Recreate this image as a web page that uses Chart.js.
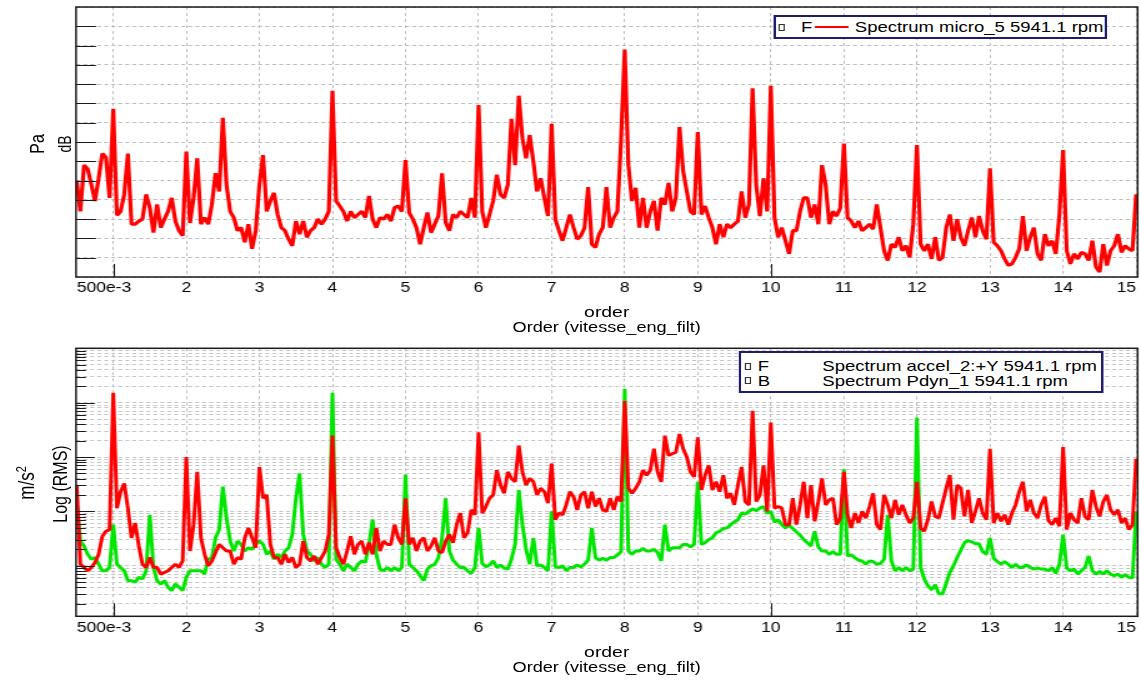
<!DOCTYPE html>
<html>
<head>
<meta charset="utf-8">
<title>Spectres en ordre - 5941.1 rpm</title>
<script src="https://cdn.jsdelivr.net/npm/chart.js@4.4.1/dist/chart.umd.min.js"></script>
<style>
  html, body { margin: 0; padding: 0; background: #fff; overflow: hidden; }
  /* the whole sheet is laid out narrow and widened afterwards */
  #sheet { position: absolute; left: 0; top: 0; width: 913px; height: 682px;
           transform: scaleX(1.2497); transform-origin: 0 0;
           font-family: "Liberation Sans", Arial, sans-serif; color: #000; }
  .panel { position: absolute; left: 0; width: 913px; }
  .panel canvas { display: block; }
  .txt { position: absolute; white-space: nowrap; line-height: 1; }
  .ctr { transform: translateX(-50%); }
  .vtxt { position: absolute; white-space: nowrap; line-height: 1;
          transform: translate(-50%, -50%) rotate(-90deg); }
  .lgbox { position: absolute; box-sizing: border-box; border: 2px solid #1d1d6b; background: #fff; }
  .mark { position: absolute; box-sizing: border-box; border: 1px solid #333; background: #fff; }
</style>
</head>
<body>
<div id="sheet">
  <div class="panel" style="top:0;height:340px">
    <canvas id="microChart"></canvas>
    <div class="vtxt" style="left:30px;top:143.5px;font-size:16px">Pa</div>
    <div class="vtxt" style="left:51.6px;top:143.5px;font-size:14px">dB</div>
    <div class="txt ctr" style="left:485.5px;top:303.8px;font-size:15.5px">order</div>
    <div class="txt ctr" style="left:485.5px;top:319.7px;font-size:14.5px">Order (vitesse_eng_filt)</div>
    <div class="lgbox" style="left:618.5px;top:15px;width:267px;height:24px"></div>
    <div class="mark" style="left:622.5px;top:23.5px;width:5.6px;height:7px"></div>
    <div class="txt" style="left:641px;top:19.8px;font-size:14.8px">F</div>
    <div style="position:absolute;left:652.2px;top:26px;width:26.4px;height:2.2px;background:#ff0000"></div>
    <div class="txt" style="left:684px;top:19.8px;font-size:14.8px">Spectrum micro_5 5941.1 rpm</div>
  </div>
  <div class="panel" style="top:340px;height:342px">
    <canvas id="accelChart"></canvas>
    <div class="vtxt" style="left:21.5px;top:143px;font-size:17px">m/s<span style="font-size:11px;position:relative;top:-7px">2</span></div>
    <div class="vtxt" style="left:48.5px;top:143.5px;font-size:16px">Log (RMS)</div>
    <div class="txt ctr" style="left:485.5px;top:303.8px;font-size:15.5px">order</div>
    <div class="txt ctr" style="left:485.5px;top:319.7px;font-size:14.5px">Order (vitesse_eng_filt)</div>
    <div class="lgbox" style="left:591.3px;top:11px;width:292px;height:42px"></div>
    <div class="mark" style="left:596.1px;top:23px;width:5.2px;height:6.5px"></div>
    <div class="txt" style="left:606.3px;top:19.2px;font-size:14.8px">F</div>
    <div class="txt" style="left:658px;top:19.2px;font-size:14.8px">Spectrum accel_2:+Y 5941.1 rpm</div>
    <div class="mark" style="left:596.1px;top:37.4px;width:5.2px;height:6.5px"></div>
    <div class="txt" style="left:606.3px;top:33.6px;font-size:14.8px">B</div>
    <div class="txt" style="left:658px;top:33.6px;font-size:14.8px">Spectrum Pdyn_1 5941.1 rpm</div>
  </div>
</div>
<script>
// spectrum bins, 0.05 order apart
const orderStart = 0.5;
const orderStep = 0.05;
const binCount = 291;
const orders = Array.from({ length: binCount }, (_, i) => Math.round((orderStart + i * orderStep) * 100) / 100);

const orderTicks = [0.5, 1, 2, 3, 4, 5, 6, 7, 8, 9, 10, 11, 12, 13, 14, 15];
const orderTickLabels = ['500e-3', '', '2', '3', '4', '5', '6', '7', '8', '9', '10', '11', '12', '13', '14', '15'];

// micro_5, dB
const micro5Db = [
  55, 47, 59, 58, 54, 49.7, 55.6, 62, 61, 50.5,
  73.6, 46, 47, 51.4, 62, 43.7, 43.7, 44.5, 45, 51.4,
  48, 41.5, 48.8, 42.8, 45, 47, 50.5, 44.5, 42, 40.7,
  62.5, 44, 50.5, 60.8, 43.7, 45.4, 43.7, 48.8, 56.9, 52.2,
  71.3, 53.9, 47, 45.4, 42, 42.8, 39, 43.7, 37.3, 42,
  53.9, 61.6, 47, 49.7, 51.8, 46.2, 42.8, 42, 39.8, 38.1,
  44.5, 41.1, 44.5, 40.3, 42, 42.8, 45, 43.7, 45, 47,
  78.3, 49.7, 48.4, 47, 44.5, 47, 45.4, 46.2, 47, 45.4,
  51, 45, 42.8, 45.4, 45, 46.2, 44.5, 48, 48.4, 47,
  60.3, 46.7, 45, 42.8, 38.5, 42.8, 46.7, 41.5, 43.7, 45.8,
  56.9, 44.1, 42, 46.2, 45.4, 47, 46.2, 45.4, 50.5, 45.4,
  74.6, 47, 42.8, 46.2, 49.7, 56.5, 51.4, 50.5, 53.9, 71,
  59, 77, 66, 60.8, 66.8, 59.9, 52.2, 55.6, 50.5, 45.8,
  69.7, 45, 42, 39.4, 42.8, 46.2, 42.8, 39.8, 40.7, 42.8,
  53.3, 38.5, 37.7, 41.1, 42.8, 53.3, 42.8, 45.4, 47, 65.5,
  89, 59, 49.7, 53.1, 42.8, 50.5, 42.8, 47, 49.7, 42,
  50.5, 48.8, 54.4, 47, 50.5, 68.9, 57.4, 52.2, 47, 46.2,
  67.6, 46.2, 48.4, 45.4, 42.8, 38.5, 43.7, 40.3, 43.7, 42.8,
  43.7, 44.5, 52.2, 45.4, 48.8, 78.9, 53.9, 45.8, 55.6, 47,
  79.6, 45.4, 40.3, 42.8, 39.4, 36, 42, 42, 47, 50.5,
  50.5, 45.4, 48.8, 43.7, 59, 53.9, 43.7, 47, 45.8, 47.9,
  64.6, 45.4, 44.5, 42.8, 44.5, 42, 42.8, 43.7, 42.4, 48.8,
  42.8, 36.8, 34.3, 38.5, 37.7, 40.3, 36.8, 38.1, 35.1, 43.7,
  64.2, 38.5, 36.8, 38.5, 34.7, 40.3, 34.3, 35.1, 42.8, 46.2,
  39.4, 45, 40.3, 38.1, 42, 45.4, 40.3, 45.8, 42, 39.8,
  58.2, 39, 38.1, 36.8, 34.7, 33, 33.4, 35.1, 37.3, 45.8,
  36.8, 40.3, 42.8, 36, 34.3, 41.1, 38.1, 39.4, 36, 46.2,
  62.9, 36.8, 33.4, 36, 34.7, 36.4, 36, 34.3, 39.4, 32.6,
  31.3, 38.5, 33, 36.8, 38.1, 41.1, 36.4, 38.1, 37.3, 36.8, 51.4
];

// accel_2:+Y, m/s2 RMS
const accel2Rms = [
  0.0305, 0.00107, 0.000933, 0.000811, 0.000933, 0.00115, 0.00163, 0.00351, 0.00433, 0.00464,
  1.52, 0.0115, 0.0231, 0.0327, 0.0115, 0.00327, 0.00614, 0.00231, 0.00107, 0.000933,
  0.00142, 0.000933, 0.000933, 0.000705, 0.000756, 0.000811, 0.000933, 0.00107, 0.000933, 0.00123,
  0.1, 0.00187, 0.00572, 0.0534, 0.00327, 0.00163, 0.001, 0.00123, 0.00175, 0.00248,
  0.00215, 0.00187, 0.00187, 0.00107, 0.00142, 0.00132, 0.00327, 0.00498, 0.00327, 0.00215,
  0.0658, 0.0175, 0.0201, 0.00248, 0.00142, 0.00142, 0.00107, 0.00163, 0.00115, 0.00142,
  0.000933, 0.00107, 0.00285, 0.00142, 0.00123, 0.00152, 0.00107, 0.00142, 0.00187, 0.00376,
  0.248, 0.00215, 0.00142, 0.00107, 0.00187, 0.00351, 0.00163, 0.00248, 0.00285, 0.00163,
  0.00266, 0.00163, 0.00498, 0.00187, 0.00285, 0.00248, 0.00248, 0.00572, 0.00327, 0.00248,
  0.0175, 0.00248, 0.00327, 0.00187, 0.00285, 0.00327, 0.00187, 0.00231, 0.00327, 0.00187,
  0.00175, 0.00285, 0.00376, 0.00266, 0.00572, 0.00933, 0.00327, 0.00404, 0.0107, 0.0087,
  0.285, 0.00933, 0.0123, 0.0175, 0.0201, 0.0573, 0.0305, 0.0215, 0.0534, 0.0404,
  0.0351, 0.163, 0.0534, 0.0305, 0.0404, 0.0351, 0.0201, 0.0266, 0.0231, 0.0142,
  0.0757, 0.00705, 0.00933, 0.0087, 0.0132, 0.0231, 0.0187, 0.0107, 0.0201, 0.0231,
  0.0115, 0.0231, 0.0123, 0.0175, 0.0107, 0.01, 0.0175, 0.0107, 0.0187, 0.0152,
  1.07, 0.0266, 0.0215, 0.0266, 0.0351, 0.0573, 0.0464, 0.0573, 0.142, 0.0534,
  0.0351, 0.248, 0.107, 0.115, 0.123, 0.266, 0.142, 0.1, 0.0534, 0.0433,
  0.231, 0.0248, 0.0464, 0.0705, 0.0248, 0.0351, 0.0231, 0.0464, 0.0175, 0.0215,
  0.0132, 0.0305, 0.0658, 0.0152, 0.0132, 0.706, 0.0152, 0.0201, 0.0705, 0.01,
  0.433, 0.0115, 0.0123, 0.0115, 0.00572, 0.00572, 0.0175, 0.00572, 0.0132, 0.0351,
  0.00756, 0.0305, 0.00658, 0.0152, 0.0404, 0.0132, 0.0163, 0.0175, 0.00572, 0.00756,
  0.0534, 0.0087, 0.00498, 0.00933, 0.00614, 0.01, 0.00756, 0.0123, 0.0215, 0.00572,
  0.00464, 0.0201, 0.0132, 0.00756, 0.0163, 0.0087, 0.0132, 0.0087, 0.00614, 0.00756,
  0.0351, 0.00498, 0.00433, 0.00705, 0.0152, 0.00811, 0.00756, 0.0142, 0.0266, 0.0464,
  0.00705, 0.0305, 0.0266, 0.00811, 0.0248, 0.00614, 0.01, 0.0175, 0.00933, 0.00705,
  0.142, 0.00614, 0.00933, 0.00658, 0.0087, 0.00572, 0.00933, 0.0132, 0.0231, 0.0351,
  0.01, 0.0163, 0.00933, 0.00756, 0.0132, 0.0187, 0.00677, 0.00572, 0.00756, 0.00534,
  0.152, 0.00464, 0.00933, 0.00705, 0.00614, 0.0175, 0.00811, 0.00705, 0.0248, 0.0123,
  0.00811, 0.0152, 0.0201, 0.0107, 0.0087, 0.0107, 0.00614, 0.00756, 0.00464, 0.00572, 0.0933
];

// Pdyn_1, same scale
const pdyn1Rms = [
  0.0152, 0.00285, 0.00231, 0.00163, 0.00132, 0.00142, 0.00107, 0.000811, 0.000811, 0.000933,
  0.00572, 0.00107, 0.000933, 0.000811, 0.000534, 0.000534, 0.000498, 0.000614, 0.000572, 0.000811,
  0.0087, 0.000933, 0.000534, 0.000464, 0.000534, 0.000404, 0.000351, 0.000464, 0.000404, 0.000351,
  0.000614, 0.000811, 0.000811, 0.000811, 0.000811, 0.000705, 0.00132, 0.00142, 0.00327, 0.00464,
  0.0285, 0.00756, 0.00285, 0.00187, 0.00285, 0.00248, 0.00187, 0.00215, 0.00201, 0.00248,
  0.00285, 0.00248, 0.00163, 0.00187, 0.00132, 0.00163, 0.00142, 0.00187, 0.00215, 0.00376,
  0.0175, 0.0498, 0.00376, 0.00187, 0.00163, 0.00123, 0.00142, 0.00107, 0.000933, 0.00107,
  1.52, 0.00132, 0.00107, 0.000811, 0.00107, 0.000933, 0.000811, 0.00107, 0.00123, 0.00115,
  0.00248, 0.00705, 0.00163, 0.00087, 0.000811, 0.000933, 0.000811, 0.000933, 0.000811, 0.000933,
  0.0478, 0.00107, 0.000933, 0.000811, 0.000658, 0.000534, 0.00087, 0.001, 0.00107, 0.00142,
  0.00327, 0.0175, 0.00187, 0.00127, 0.00107, 0.000933, 0.000933, 0.000811, 0.000725, 0.000933,
  0.00498, 0.0011, 0.00096, 0.00104, 0.00123, 0.000933, 0.00104, 0.000907, 0.00087, 0.00132,
  0.00248, 0.0248, 0.00572, 0.00201, 0.00107, 0.00327, 0.001, 0.00104, 0.000933, 0.000811,
  0.01, 0.00096, 0.000933, 0.001, 0.000811, 0.000933, 0.000933, 0.00104, 0.00096, 0.00107,
  0.00127, 0.00498, 0.00142, 0.00127, 0.00138, 0.00127, 0.00142, 0.00142, 0.00159, 0.00182,
  1.8, 0.00187, 0.00163, 0.00187, 0.00187, 0.00209, 0.00187, 0.00187, 0.00201, 0.00175,
  0.00123, 0.00572, 0.00187, 0.00215, 0.00215, 0.00215, 0.00248, 0.00248, 0.00222, 0.00248,
  0.0351, 0.00248, 0.00266, 0.00305, 0.00327, 0.00404, 0.00433, 0.00484, 0.00498, 0.00572,
  0.0064, 0.00705, 0.00933, 0.00893, 0.01, 0.0112, 0.0103, 0.0115, 0.0123, 0.00933,
  0.01, 0.0064, 0.00705, 0.00572, 0.00498, 0.00556, 0.00484, 0.00421, 0.00366, 0.00305,
  0.00266, 0.00231, 0.00433, 0.00222, 0.00187, 0.00187, 0.00163, 0.00182, 0.00163, 0.00163,
  0.0598, 0.00152, 0.00159, 0.00142, 0.00127, 0.00123, 0.00107, 0.00123, 0.0012, 0.00107,
  0.0011, 0.00132, 0.0087, 0.00123, 0.000811, 0.000933, 0.000811, 0.000933, 0.000811, 0.00087,
  0.534, 0.000933, 0.000572, 0.000433, 0.000361, 0.000451, 0.000305, 0.000305, 0.000478, 0.000756,
  0.001, 0.00142, 0.00193, 0.00266, 0.00292, 0.00277, 0.00255, 0.00255, 0.00182, 0.00163,
  0.00327, 0.00138, 0.0012, 0.00107, 0.0012, 0.00107, 0.000933, 0.00107, 0.000933, 0.000933,
  0.00104, 0.000933, 0.00087, 0.000907, 0.00087, 0.00087, 0.000811, 0.000933, 0.000725, 0.00107,
  0.00376, 0.000907, 0.000811, 0.00087, 0.000705, 0.000811, 0.000933, 0.00152, 0.000811, 0.000705,
  0.00079, 0.000705, 0.000811, 0.000705, 0.000658, 0.000705, 0.000614, 0.000686, 0.000614, 0.000597, 0.01
];

// y grids
const dbMin = 30, dbMax = 100;
const dbGrid = [30, 35, 40, 45, 50, 55, 60, 65, 70, 75, 80, 85, 90, 95, 100];
const rmsMin = 1.18e-4, rmsMax = 10;
const rmsDecades = [1e-3, 1e-2, 1e-1, 1];

const rmsGrid = [];
for (let e = -4; e <= 1; e++) {
  for (let m = 1; m <= 9; m++) {
    const v = m * Math.pow(10, e);
    if (v >= rmsMin && v <= rmsMax * 1.0001) rmsGrid.push(v);
  }
}

Chart.defaults.font.family = '"Liberation Sans", Arial, sans-serif';
Chart.defaults.color = '#000';

// box around the plot + short dark ticks inside the frame
const framePlugin = {
  id: 'frame',
  afterDatasetsDraw(chart, args, opts) {
    const { ctx, chartArea: a } = chart;
    const xs = chart.scales.x, ys = chart.scales.y;
    ctx.save();
    ctx.strokeStyle = '#1a1a1a';
    ctx.lineWidth = 1;
    ctx.beginPath();
    opts.yMarks.forEach(m => {
      const y = Math.round(ys.getPixelForValue(m.value)) + 0.5;
      ctx.moveTo(a.left, y);
      ctx.lineTo(a.left + m.len, y);
    });
    opts.xMarks.forEach(v => {
      const x = Math.round(xs.getPixelForValue(v)) + 0.5;
      ctx.moveTo(x, a.bottom);
      ctx.lineTo(x, a.bottom - 13);
    });
    ctx.stroke();
    ctx.lineWidth = 1.5;
    ctx.strokeRect(a.left, a.top, a.right - a.left, a.bottom - a.top);
    ctx.restore();
  }
};

function orderAxis() {
  return {
    type: 'linear',
    min: 0.49,
    max: 15.02,
    bounds: 'data',
    afterBuildTicks: s => { s.ticks = orderTicks.map(v => ({ value: v })); },
    ticks: {
      autoSkip: false, maxRotation: 0, align: 'inner', padding: 3,
      color: '#000', font: { size: 14 },
      callback: (v, i) => orderTickLabels[i]
    },
    grid: {
      color: c => (c.tick && c.tick.value === 0.5 ? 'rgba(0,0,0,0)' : '#bdbdbd'),
      lineWidth: 1,
      drawTicks: false
    },
    border: { display: false, dash: [3, 3] }
  };
}

function baseOptions(padding, yScale, marks) {
  return {
    responsive: true,
    maintainAspectRatio: false,
    animation: false,
    events: [],
    layout: { padding },
    plugins: {
      legend: { display: false },
      tooltip: { enabled: false },
      frame: marks
    },
    elements: { point: { radius: 0 } },
    scales: { x: orderAxis(), y: yScale }
  };
}

// upper plot : micro_5
new Chart(document.getElementById('microChart'), {
  type: 'line',
  data: {
    labels: orders,
    datasets: [{
      data: micro5Db,
      borderColor: '#ff0000',
      borderWidth: 3.2,
      borderJoinStyle: 'bevel',
      tension: 0
    }]
  },
  options: baseOptions(
    { left: 60.8, right: 2.7, top: 7, bottom: 40.2 },
    {
      type: 'linear', min: dbMin, max: dbMax, bounds: 'data',
      afterBuildTicks: s => { s.ticks = dbGrid.map(v => ({ value: v })); },
      ticks: { display: false },
      grid: { color: '#bdbdbd', lineWidth: 1, drawTicks: false },
      border: { display: false, dash: [3.2, 2.4] }
    },
    { yMarks: dbGrid.slice(1, -1).map(v => ({ value: v, len: 16 })), xMarks: [1, 10] }
  ),
  plugins: [framePlugin]
});

// lower plot : accel_2 (front) and Pdyn_1 (back)
new Chart(document.getElementById('accelChart'), {
  type: 'line',
  data: {
    labels: orders,
    datasets: [
      {
        label: 'Spectrum accel_2:+Y 5941.1 rpm',
        data: accel2Rms,
        borderColor: '#ff0000',
        borderWidth: 3,
        borderJoinStyle: 'bevel',
        tension: 0
      },
      {
        label: 'Spectrum Pdyn_1 5941.1 rpm',
        data: pdyn1Rms,
        borderColor: '#00e600',
        borderWidth: 3,
        borderJoinStyle: 'bevel',
        tension: 0
      }
    ]
  },
  options: baseOptions(
    { left: 60.8, right: 2.7, top: 8.3, bottom: 42.9 },
    {
      type: 'logarithmic', min: rmsMin, max: rmsMax, bounds: 'data',
      afterBuildTicks: s => { s.ticks = rmsGrid.map(v => ({ value: v })); },
      ticks: { display: false },
      grid: { color: '#c6c6c6', lineWidth: 1, drawTicks: false },
      border: { display: false, dash: [3.2, 2.4] }
    },
    {
      yMarks: rmsGrid.filter(v => v < rmsMax * 0.999).map(v => ({
        value: v,
        len: rmsDecades.some(d => Math.abs(v - d) / d < 1e-6) ? 15 : 8
      })),
      xMarks: [1, 10]
    }
  ),
  plugins: [framePlugin]
});
</script>
</body>
</html>
